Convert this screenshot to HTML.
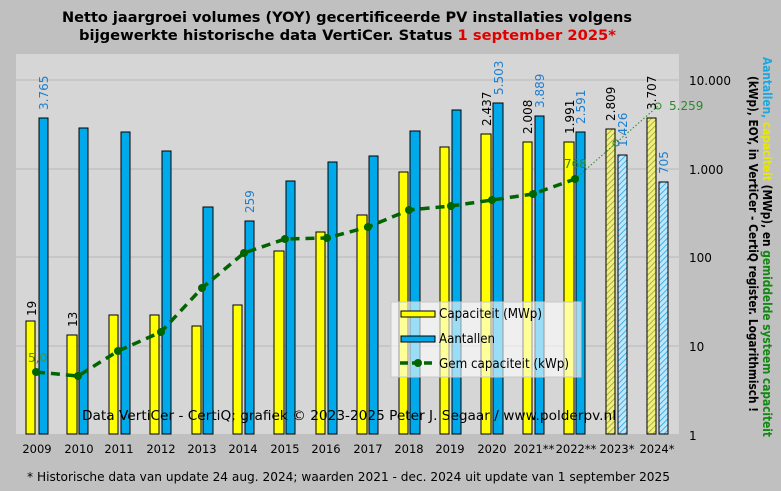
<!DOCTYPE html>
<html><head><meta charset="utf-8"><style>
body{margin:0;background:#c0c0c0;}
svg{display:block;font-family:"DejaVu Sans","Liberation Sans",sans-serif;}
</style></head><body>
<svg width="781" height="491" viewBox="0 0 781 491">
<defs>
<pattern id="hy" width="4" height="4" patternUnits="userSpaceOnUse" patternTransform="rotate(45)">
<rect width="4" height="4" fill="#f0f080"/><line x1="0" y1="0" x2="0" y2="4" stroke="#9a9a30" stroke-width="1.5"/></pattern>
<pattern id="hb" width="4" height="4" patternUnits="userSpaceOnUse" patternTransform="rotate(45)">
<rect width="4" height="4" fill="#bfe6fa"/><line x1="0" y1="0" x2="0" y2="4" stroke="#1aa0e0" stroke-width="1.5"/></pattern>
</defs>
<rect width="781" height="491" fill="#c0c0c0"/>
<text x="62" y="22" font-size="14" font-weight="bold" textLength="570" lengthAdjust="spacingAndGlyphs">Netto jaargroei volumes (YOY) gecertificeerde  PV installaties volgens</text>
<text x="79" y="40" font-size="14" font-weight="bold" textLength="537" lengthAdjust="spacingAndGlyphs">bijgewerkte historische data VertiCer. Status <tspan fill="#e00000">1 september 2025*</tspan></text>
<rect x="16" y="54" width="663" height="380" fill="#d6d6d6"/>
<g stroke="#b8b8b8" stroke-width="1">
<line x1="16" y1="80" x2="679" y2="80"/><line x1="16" y1="169" x2="679" y2="169"/>
<line x1="16" y1="257" x2="679" y2="257"/><line x1="16" y1="346" x2="679" y2="346"/>
</g>
<g stroke="#000" stroke-width="1">
<g fill="#ffff00">
<rect x="26" y="321" width="9" height="113"/><rect x="67" y="335" width="10" height="99"/>
<rect x="109" y="315" width="9" height="119"/><rect x="150" y="315" width="9" height="119"/>
<rect x="192" y="326" width="9" height="108"/><rect x="233" y="305" width="9" height="129"/>
<rect x="274" y="251" width="10" height="183"/><rect x="316" y="232" width="9" height="202"/>
<rect x="357" y="215" width="10" height="219"/><rect x="399" y="172" width="9" height="262"/>
<rect x="440" y="147" width="9" height="287"/><rect x="481" y="134" width="10" height="300"/>
<rect x="523" y="142" width="9" height="292"/><rect x="564" y="142" width="10" height="292"/>
</g>
<rect x="606" y="129" width="9" height="305" fill="url(#hy)"/>
<rect x="647" y="118" width="9" height="316" fill="url(#hy)"/>
<g fill="#00aaea">
<rect x="39" y="118" width="9" height="316"/><rect x="79" y="128" width="9" height="306"/>
<rect x="121" y="132" width="9" height="302"/><rect x="162" y="151" width="9" height="283"/>
<rect x="203" y="207" width="10" height="227"/><rect x="245" y="221" width="9" height="213"/>
<rect x="286" y="181" width="9" height="253"/><rect x="328" y="162" width="9" height="272"/>
<rect x="369" y="156" width="9" height="278"/><rect x="410" y="131" width="10" height="303"/>
<rect x="452" y="110" width="9" height="324"/><rect x="493" y="103" width="10" height="331"/>
<rect x="535" y="116" width="9" height="318"/><rect x="576" y="132" width="9" height="302"/>
</g>
<rect x="618" y="155" width="9" height="279" fill="url(#hb)"/>
<rect x="659" y="182" width="9" height="252" fill="url(#hb)"/>
</g>
<polyline points="575,179 616,143 658,106" fill="none" stroke="#2a8a2a" stroke-width="1" stroke-dasharray="1.5,2"/>
<polyline points="36,372 78,376 118,351 161,332 202,288 244,253 285,239 327,238 368,227 409,210 451,206 492,200 533,194 575,179" fill="none" stroke="#006400" stroke-width="3.5" stroke-dasharray="9,6"/>
<g fill="#006400">
<circle cx="36" cy="372" r="4"/><circle cx="78" cy="376" r="4"/><circle cx="118" cy="351" r="4"/><circle cx="161" cy="332" r="4"/><circle cx="202" cy="288" r="4"/><circle cx="244" cy="253" r="4"/><circle cx="285" cy="239" r="4"/><circle cx="327" cy="238" r="4"/><circle cx="368" cy="227" r="4"/><circle cx="409" cy="210" r="4"/><circle cx="451" cy="206" r="4"/><circle cx="492" cy="200" r="4"/><circle cx="533" cy="194" r="4"/><circle cx="575" cy="179" r="4"/>
</g>
<circle cx="616" cy="143" r="3" fill="none" stroke="#2a8a2a"/>
<circle cx="658" cy="106" r="3" fill="none" stroke="#2a8a2a"/>
<g font-size="12">
<g fill="#000">
<text transform="translate(36,316) rotate(-90)">19</text>
<text transform="translate(77,327) rotate(-90)">13</text>
<text transform="translate(491,126) rotate(-90)">2.437</text>
<text transform="translate(532,134) rotate(-90)">2.008</text>
<text transform="translate(574,134) rotate(-90)">1.991</text>
<text transform="translate(615,121) rotate(-90)">2.809</text>
<text transform="translate(656,110) rotate(-90)">3.707</text>
</g>
<g fill="#1e7fd0">
<text transform="translate(48,110) rotate(-90)">3.765</text>
<text transform="translate(254,213) rotate(-90)">259</text>
<text transform="translate(503,95) rotate(-90)">5.503</text>
<text transform="translate(544,108) rotate(-90)">3.889</text>
<text transform="translate(585,124) rotate(-90)">2.591</text>
<text transform="translate(627,147) rotate(-90)">1.426</text>
<text transform="translate(668,174) rotate(-90)">705</text>
</g>
<text x="28" y="362" fill="#6a8a00">5,0</text>
<text x="564" y="168" fill="#2a8a2a">768</text>
<text x="669" y="110" fill="#2a8a2a">5.259</text>
</g>
<rect x="391" y="302" width="190" height="75" fill="#ffffff" fill-opacity="0.6" stroke="#c8c8c8"/>
<rect x="401" y="311" width="34" height="6" fill="#ffff00" stroke="#000"/>
<rect x="401" y="336" width="34" height="6" fill="#00aaea" stroke="#000"/>
<line x1="400" y1="363" x2="436" y2="363" stroke="#006400" stroke-width="3.5" stroke-dasharray="8,4"/>
<circle cx="418" cy="363" r="4" fill="#006400"/>
<g font-size="13" fill="#000">
<text x="439" y="318" textLength="103" lengthAdjust="spacingAndGlyphs">Capaciteit (MWp)</text>
<text x="439" y="343" textLength="56" lengthAdjust="spacingAndGlyphs">Aantallen</text>
<text x="439" y="368" textLength="130" lengthAdjust="spacingAndGlyphs">Gem capaciteit (kWp)</text>
<text x="82" y="420" textLength="534" lengthAdjust="spacingAndGlyphs">Data VertiCer  - CertiQ; grafiek  © 2023-2025  Peter J. Segaar / www.polderpv.nl</text>
</g>
<g font-size="11.5" fill="#000" text-anchor="middle">
<text x="37" y="453">2009</text><text x="79" y="453">2010</text><text x="119" y="453">2011</text><text x="161" y="453">2012</text>
<text x="202" y="453">2013</text><text x="243" y="453">2014</text><text x="285" y="453">2015</text><text x="326" y="453">2016</text>
<text x="368" y="453">2017</text><text x="409" y="453">2018</text><text x="450" y="453">2019</text><text x="492" y="453">2020</text>
<text x="534" y="453">2021**</text><text x="576" y="453">2022**</text><text x="617" y="453">2023*</text><text x="657" y="453">2024*</text>
</g>
<g font-size="12" fill="#000">
<text x="689" y="85">10.000</text><text x="689" y="174">1.000</text><text x="689" y="262">100</text>
<text x="689" y="351">10</text><text x="689" y="440">1</text>
</g>
<g font-size="12" font-weight="bold">
<text transform="translate(763,57) rotate(90)" textLength="380" lengthAdjust="spacingAndGlyphs"><tspan fill="#1aa8e0">Aantallen, </tspan><tspan fill="#e8e800">capaciteit</tspan><tspan fill="#000"> (MWp), en </tspan><tspan fill="#118811">gemiddelde systeem capaciteit</tspan></text>
<text transform="translate(749,76) rotate(90)" fill="#000" textLength="336" lengthAdjust="spacingAndGlyphs">(kWp), EOY, in VertiCer - CertiQ register. Logarithmisch !</text>
</g>
<text x="27" y="481" font-size="12.5" fill="#000" textLength="643" lengthAdjust="spacingAndGlyphs">* Historische data van update 24 aug. 2024; waarden 2021 - dec. 2024 uit update van 1 september 2025</text>
</svg>
</body></html>
